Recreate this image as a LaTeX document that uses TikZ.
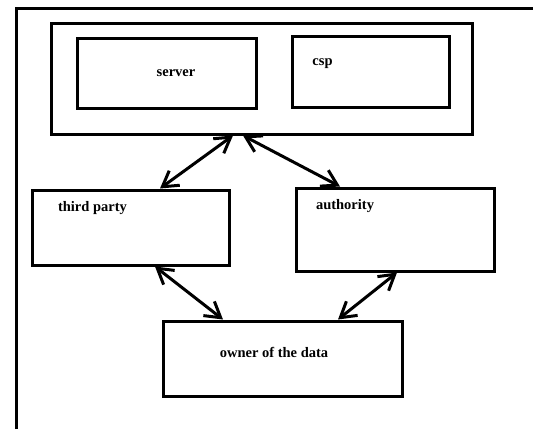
\documentclass[tikz,border=0pt]{standalone}
\usepackage{fontspec}
\setmainfont{Liberation Serif}
\usetikzlibrary{arrows.meta}
\begin{document}
\begin{tikzpicture}[x=1pt,y=-1pt,
  box/.style={draw,line width=3pt,minimum width=#1,inner sep=0pt},
  lbl/.style={font=\bfseries\fontsize{14.5}{16}\selectfont,inner sep=0pt},
  link/.style={line width=3pt,{Straight Barb[length=15pt,width=18pt,line width=3pt]}-{Straight Barb[length=15pt,width=18pt,line width=3pt]}}]
\useasboundingbox (0,0) rectangle (533,429);
% outer frame
\draw[line width=3pt] (16,429) -- (16,8) -- (533,8);
% boxes
\node[box=421pt,minimum height=111pt] (group) at (261.5,78.5) {};
\node[box=179pt,minimum height=70pt] (server) at (166.5,73) {};
\node[box=157pt,minimum height=71pt] (csp) at (370.5,71.5) {};
\node[box=197pt,minimum height=75pt] (third) at (130.5,227.5) {};
\node[box=198pt,minimum height=83pt] (auth) at (395,229.5) {};
\node[box=239pt,minimum height=75pt] (owner) at (282.5,358.5) {};
% labels
\node[lbl] (tserver) at (176,73) {server};
\node[lbl] (tcsp) at (322.5,64) {csp};
\node[lbl] (tthird) at (92.5,208) {third party};
\node[lbl] (tauth) at (345,206) {authority};
\node[lbl] (towner) at (274,352) {owner of the data};
% connectors
\draw[link] ([xshift=29.5]third.north) -- ([xshift=-28.5]group.south);
\draw[link] ([xshift=-18.5]group.south) -- ([xshift=-55]auth.north);
\draw[link] ([xshift=24.5]third.south) -- ([xshift=-59.5]owner.north);
\draw[link] ([xshift=55.5]owner.north) -- ([xshift=2]auth.south);
\end{tikzpicture}
\end{document}
